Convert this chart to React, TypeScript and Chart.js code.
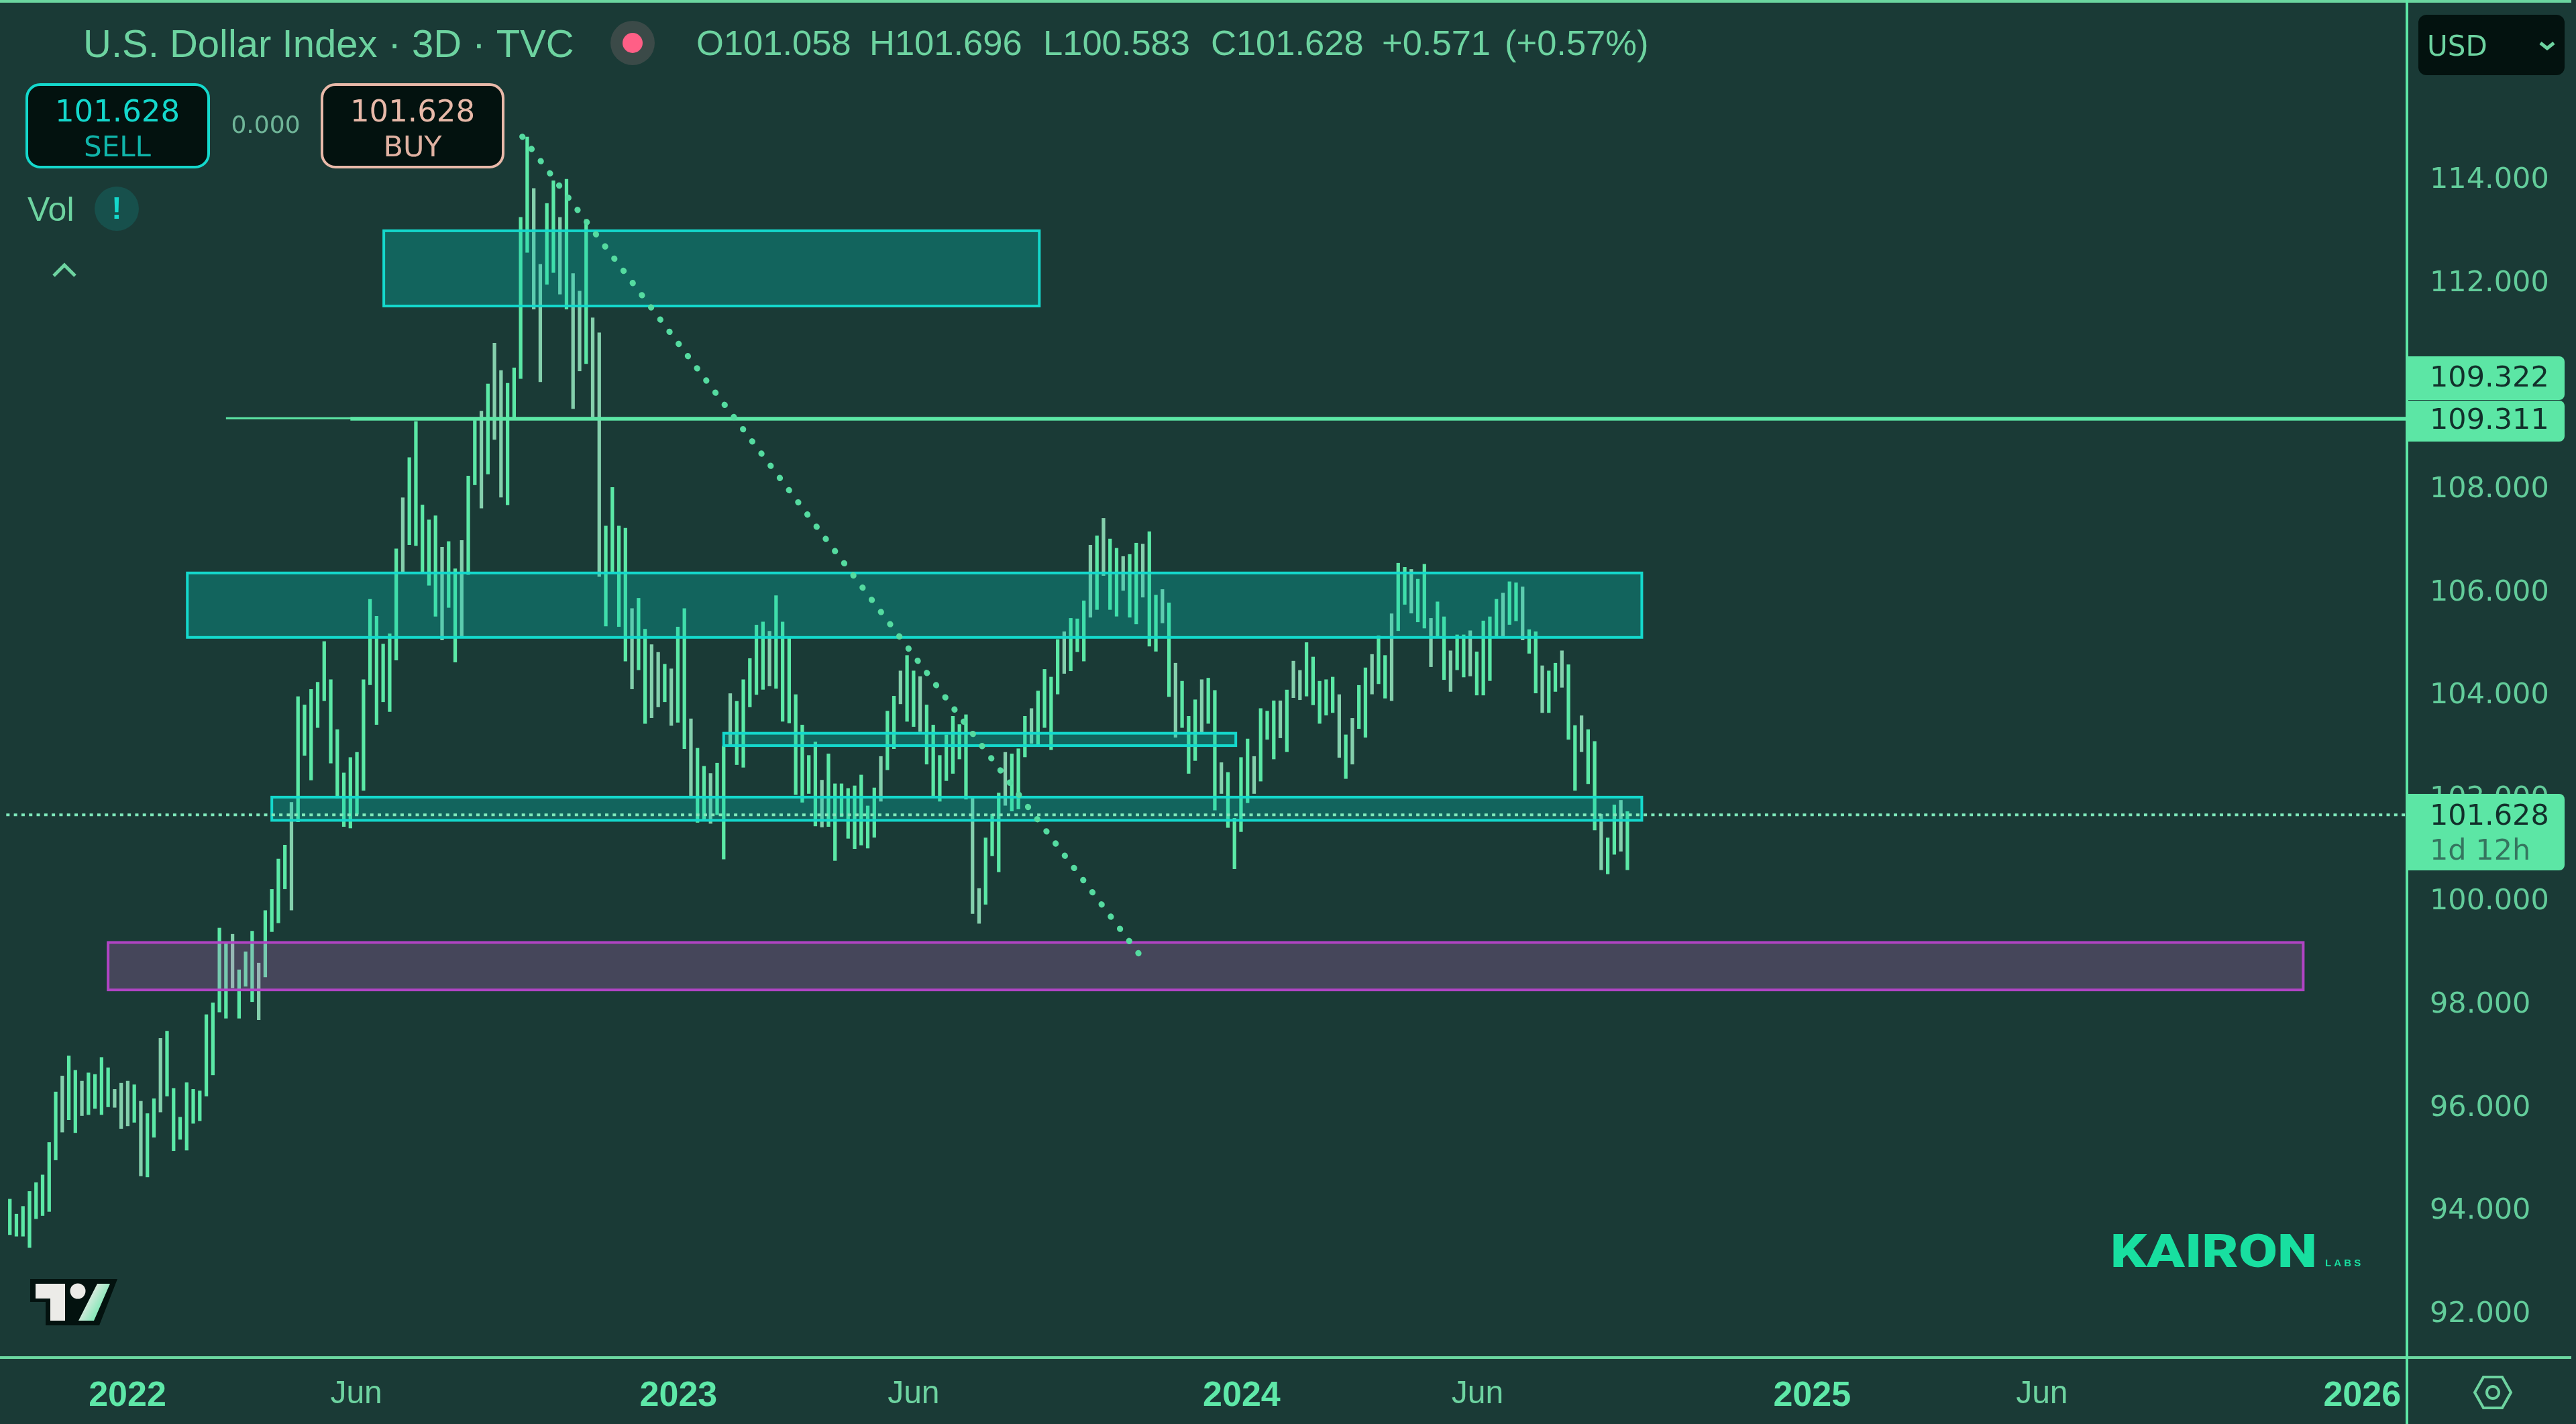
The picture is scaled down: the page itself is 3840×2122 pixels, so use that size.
import React, { useEffect, useRef } from "react";
import { Chart, registerables } from "chart.js";

Chart.register(...registerables);

const barHighs = [
  94.17, 93.88, 94.03, 94.32, 94.49, 94.64, 95.27, 96.25, 96.56, 96.95, 96.67, 96.46, 96.62, 96.59, 96.92, 96.72, 96.30, 96.42, 96.46, 96.39,
  96.07, 95.83, 96.12, 97.29, 97.43, 96.32, 95.76, 96.43, 96.30, 96.27, 97.75, 97.98, 99.43, 99.16, 99.31, 98.62, 98.97, 99.37, 98.75, 99.77,
  100.18, 100.77, 101.04, 101.87, 103.92, 103.76, 104.06, 104.20, 104.99, 104.25, 103.28, 102.44, 102.74, 102.84, 104.25, 105.81, 105.48, 104.94, 105.14, 106.79,
  107.78, 108.56, 109.26, 107.64, 107.35, 107.43, 106.82, 106.93, 106.40, 106.95, 108.20, 109.28, 109.46, 109.99, 110.78, 110.25, 110.00, 110.30, 113.22, 114.78,
  113.78, 112.31, 113.49, 113.93, 113.22, 113.96, 112.13, 111.79, 113.18, 111.27, 110.98, 107.23, 107.98, 107.23, 107.19, 105.63, 105.83, 105.23, 104.93, 104.78,
  104.55, 104.46, 105.27, 105.63, 103.49, 102.92, 102.57, 102.43, 102.63, 102.96, 103.98, 103.83, 104.25, 104.66, 105.31, 105.37, 105.19, 105.88, 105.37, 105.09,
  103.96, 103.37, 102.78, 103.04, 102.30, 102.81, 102.23, 102.23, 102.14, 102.19, 102.40, 101.80, 102.15, 102.76, 103.64, 103.93, 104.42, 104.72, 104.42, 104.31,
  103.76, 103.37, 102.78, 103.18, 103.54, 103.38, 103.57, 101.98, 100.20, 101.18, 101.64, 102.05, 102.84, 102.81, 102.91, 103.54, 103.69, 104.03, 104.45, 104.30,
  105.03, 105.18, 105.44, 105.43, 105.78, 106.86, 107.04, 107.38, 106.98, 106.80, 106.64, 106.68, 106.90, 106.88, 107.12, 105.89, 106.00, 105.74, 104.57, 104.22,
  103.54, 103.86, 104.25, 104.28, 104.04, 102.64, 102.45, 101.56, 102.74, 103.10, 102.76, 103.69, 103.64, 103.84, 103.84, 104.05, 104.61, 104.43, 104.97, 104.69,
  104.22, 104.25, 104.30, 103.96, 103.18, 103.50, 104.14, 104.48, 104.74, 105.10, 104.72, 105.53, 106.51, 106.43, 106.39, 106.20, 106.49, 105.44, 105.76, 105.47,
  104.81, 105.12, 105.12, 105.20, 104.79, 105.39, 105.47, 105.81, 105.93, 106.15, 106.13, 106.05, 105.22, 105.18, 104.52, 104.42, 104.57, 104.81, 104.54, 103.36,
  103.55, 103.28, 103.05, 101.64, 101.18, 101.82, 101.91, 101.69,
];

const barLows = [
  93.48, 93.45, 93.45, 93.23, 93.79, 93.85, 93.93, 94.93, 95.47, 95.71, 95.46, 95.79, 95.81, 95.93, 95.81, 95.96, 95.95, 95.54, 95.59, 95.66,
  94.62, 94.60, 95.37, 95.86, 96.17, 95.11, 95.33, 95.12, 95.64, 95.69, 96.17, 96.58, 97.80, 97.68, 98.27, 97.68, 98.30, 98.00, 97.65, 98.48,
  99.36, 99.53, 100.19, 99.78, 101.49, 102.78, 102.30, 103.32, 103.84, 102.63, 101.95, 101.40, 101.37, 101.64, 102.10, 104.15, 103.38, 103.82, 103.63, 104.63,
  106.33, 106.87, 106.85, 106.33, 106.08, 105.48, 105.02, 105.65, 104.59, 105.06, 106.29, 108.03, 107.58, 108.24, 108.91, 107.79, 107.64, 109.32, 110.09, 112.54,
  111.44, 110.03, 111.92, 112.15, 111.73, 111.44, 109.51, 110.24, 110.38, 109.32, 106.25, 105.29, 106.31, 105.28, 104.61, 104.07, 104.44, 103.40, 103.51, 103.72,
  103.82, 103.36, 103.42, 102.91, 101.95, 101.48, 101.53, 101.46, 101.63, 100.77, 102.96, 102.60, 102.55, 103.72, 103.96, 104.06, 104.13, 104.08, 103.44, 103.41,
  102.02, 101.87, 102.04, 101.41, 101.39, 101.40, 100.74, 101.59, 101.17, 100.97, 101.04, 100.98, 101.19, 101.89, 102.50, 102.91, 103.78, 103.44, 103.34, 103.24,
  102.61, 101.98, 101.89, 102.29, 102.43, 102.71, 101.93, 99.71, 99.52, 99.89, 100.83, 100.52, 101.81, 101.70, 101.74, 102.75, 103.01, 102.96, 103.32, 102.89,
  103.97, 104.37, 104.42, 104.79, 104.61, 105.46, 105.61, 106.27, 105.61, 105.48, 105.98, 105.46, 105.33, 105.85, 104.90, 104.80, 105.35, 103.92, 103.13, 103.32,
  102.43, 102.68, 103.22, 103.40, 101.72, 102.04, 101.38, 100.58, 101.30, 101.86, 102.04, 102.28, 103.09, 102.71, 103.12, 102.85, 103.90, 103.86, 103.93, 103.76,
  103.40, 103.56, 103.61, 102.74, 102.33, 102.61, 103.30, 103.13, 103.97, 104.17, 103.89, 103.84, 105.20, 105.71, 105.54, 105.37, 105.25, 104.50, 105.09, 104.25,
  104.02, 104.44, 104.30, 104.32, 103.95, 103.95, 104.23, 105.09, 105.09, 105.32, 105.39, 105.02, 104.76, 103.99, 103.61, 103.61, 104.02, 104.10, 103.09, 102.10,
  102.85, 102.23, 101.33, 100.56, 100.48, 100.86, 100.92, 100.56,
];

const mutedBars = [
  8, 11, 16, 17, 18, 20, 23, 34, 38, 43, 60, 66, 69, 72, 74, 75, 80, 81, 84, 86, 87, 89, 90, 95, 98, 99, 101, 104, 107, 110, 116, 124, 133, 136, 139,
  147, 148, 152, 156, 161, 165, 167, 170, 173, 176, 178, 182, 185, 190, 194, 196, 197, 203, 205, 208, 211, 214, 217, 220, 223, 228, 231, 234, 237, 240, 243, 246,
];

const priceTicks = [114, 112, 110, 108, 106, 104, 102, 100, 98, 96, 94, 92];
const timeTickBars = [17.96, 52.9, 102.1, 138.0, 188.1, 224.1, 275.2, 310.3, 359.2];
const timeTickLabels = ["2022", "Jun", "2023", "Jun", "2024", "Jun", "2025", "Jun", "2026"];

const zoneStarts = [57.1, 27.1, 109.0, 40.0, 15.0];
const zoneEnds = [157.2, 249.2, 187.2, 249.2, 350.2];
const zoneTops = [112.96, 106.32, 103.21, 101.97, 99.15];
const zoneBottoms = [111.5, 105.07, 102.97, 101.52, 98.23];
const zoneFills = ["rgba(0,198,181,0.3)", "rgba(0,198,181,0.3)", "rgba(0,198,181,0.3)", "rgba(0,198,181,0.3)", "rgba(205,110,205,0.24)"];
const zoneEdges = ["#14d8cc", "#14d8cc", "#14d8cc", "#14d8cc", "#b044c4"];

const axisXMin = -1.506;
const axisXMax = 366.04;
const axisYMin = 91.096;
const axisYMax = 117.4375;

const lastPrice = 101.628;
const levelA = 109.322;
const levelB = 109.311;
const levelAStart = 33.0;
const levelBStart = 52.0;
const trendX = [78.25, 172.4];
const trendY = [114.786, 98.93];

const legendOHLC = ["O101.058", "H101.696", "L100.583", "C101.628", "+0.571", "(+0.57%)"];
const legendOHLCx = [1038, 1296, 1555, 1805, 2060, 2243];

const BG = "#1a3a36";
const GREEN = "#5ce6a5";
const TEXT = "#6dd3a0";
const SANS = '"Liberation Sans", Arial, sans-serif';
const DEJA = '"DejaVu Sans", sans-serif';

function roundBox(ctx: any, x: number, y: number, w: number, h: number, r: any, fill: string, stroke?: string, lw = 4) {
  ctx.beginPath();
  ctx.roundRect(x, y, w, h, r);
  ctx.fillStyle = fill;
  ctx.fill();
  if (stroke) {
    ctx.lineWidth = lw;
    ctx.strokeStyle = stroke;
    ctx.stroke();
  }
}

function label(ctx: any, s: string, x: number, y: number, font: string, color: string, align = "left") {
  ctx.font = font;
  ctx.fillStyle = color;
  ctx.textAlign = align;
  ctx.textBaseline = "middle";
  ctx.fillText(s, x, y);
}

const zonesPlugin = {
  id: "zones",
  afterDatasetDraw(chart: any, args: any) {
    if (args.meta.type !== "bar") return;
    const { ctx, scales } = chart;
    ctx.save();
    zoneStarts.forEach((start, i) => {
      const x0 = scales.x.getPixelForValue(start);
      const x1 = scales.x.getPixelForValue(zoneEnds[i]);
      const y0 = scales.y.getPixelForValue(zoneTops[i]);
      const y1 = scales.y.getPixelForValue(zoneBottoms[i]);
      ctx.fillStyle = zoneFills[i];
      ctx.fillRect(x0, y0, x1 - x0, y1 - y0);
      ctx.strokeStyle = zoneEdges[i];
      ctx.lineWidth = 4;
      ctx.strokeRect(x0, y0, x1 - x0, y1 - y0);
    });
    ctx.restore();
  },
};

const overlayPlugin = {
  id: "overlay",
  afterDraw(chart: any) {
    const { ctx, scales } = chart;
    ctx.save();

    // frame
    ctx.fillStyle = "#6bd6a0";
    ctx.fillRect(0, 0, 3833, 4);
    ctx.fillRect(0, 2021, 3833, 4);
    ctx.fillStyle = GREEN;
    ctx.fillRect(3586, 0, 4, 2122);

    // header
    label(ctx, "U.S. Dollar Index · 3D · TVC", 124, 69, `58px ${SANS}`, TEXT);
    ctx.beginPath();
    ctx.ellipse(943, 64, 33, 33, 0, 0, Math.PI * 2);
    ctx.fillStyle = "#3b4a48";
    ctx.fill();
    ctx.beginPath();
    ctx.arc(943, 64, 15, 0, Math.PI * 2);
    ctx.fillStyle = "#ff5f86";
    ctx.fill();
    legendOHLC.forEach((s, i) => label(ctx, s, legendOHLCx[i], 68, `52.5px ${SANS}`, TEXT));

    // buy & sell
    roundBox(ctx, 40, 126, 271, 123, 20, "#03120f", "#14d8cc");
    label(ctx, "101.628", 175, 169, `45px ${DEJA}`, "#14d8cc", "center");
    label(ctx, "SELL", 175, 222, `42px ${DEJA}`, "#10b5aa", "center");
    label(ctx, "0.000", 396, 189, `36px ${DEJA}`, "#6fb598", "center");
    roundBox(ctx, 480, 126, 270, 123, 20, "#03120f", "#e8b9a9");
    label(ctx, "101.628", 615, 169, `45px ${DEJA}`, "#e8b9a9", "center");
    label(ctx, "BUY", 615, 222, `43px ${DEJA}`, "#e0b2a2", "center");

    // volume legend
    label(ctx, "Vol", 41, 315, `50px ${SANS}`, TEXT);
    ctx.beginPath();
    ctx.arc(174, 311, 33, 0, Math.PI * 2);
    ctx.fillStyle = "#17504c";
    ctx.fill();
    label(ctx, "!", 174, 313, `bold 46px ${SANS}`, "#14d8cc", "center");
    ctx.beginPath();
    ctx.moveTo(80, 411);
    ctx.lineTo(96, 395);
    ctx.lineTo(112, 411);
    ctx.strokeStyle = TEXT;
    ctx.lineWidth = 5;
    ctx.stroke();

    // currency
    roundBox(ctx, 3605, 22, 218, 90, 12, "#03120f");
    label(ctx, "USD", 3618, 72, `42px ${DEJA}`, TEXT);
    ctx.beginPath();
    ctx.moveTo(3787, 64);
    ctx.lineTo(3797, 72);
    ctx.lineTo(3807, 64);
    ctx.strokeStyle = TEXT;
    ctx.lineWidth = 5;
    ctx.stroke();

    // price tags
    const px = scales.y.getPixelForValue(levelB);
    roundBox(ctx, 3590, 531, 233, 65, [0, 8, 8, 0], GREEN);
    roundBox(ctx, 3590, 597, 233, 61, [0, 8, 8, 0], GREEN);
    label(ctx, levelA.toFixed(3), 3622, 565, `43px ${DEJA}`, "#12302b");
    label(ctx, levelB.toFixed(3), 3622, px + 4, `43px ${DEJA}`, "#12302b");
    roundBox(ctx, 3590, 1183, 233, 114, [0, 8, 8, 0], GREEN);
    label(ctx, lastPrice.toFixed(3), 3622, scales.y.getPixelForValue(lastPrice) + 4, `43px ${DEJA}`, "#12302b");
    label(ctx, "1d 12h", 3622, 1270, `43px ${DEJA}`, "#35755f");

    // settings
    const hx = 3716;
    const hy = 2075;
    ctx.beginPath();
    ctx.moveTo(hx - 27, hy);
    ctx.lineTo(hx - 14, hy - 23);
    ctx.lineTo(hx + 14, hy - 23);
    ctx.lineTo(hx + 27, hy);
    ctx.lineTo(hx + 14, hy + 23);
    ctx.lineTo(hx - 14, hy + 23);
    ctx.closePath();
    ctx.strokeStyle = TEXT;
    ctx.lineWidth = 4;
    ctx.stroke();
    ctx.beginPath();
    ctx.arc(hx, hy, 9, 0, Math.PI * 2);
    ctx.stroke();

    // watermark
    ctx.save();
    ctx.font = `900 68px Roboto, ${SANS}`;
    const w = ctx.measureText("KAIRON").width;
    ctx.translate(3146, 1888);
    ctx.scale(308 / w, 1);
    ctx.fillStyle = "#18dfa0";
    ctx.textAlign = "left";
    ctx.textBaseline = "alphabetic";
    ctx.fillText("KAIRON", 0, 0);
    ctx.restore();
    label(ctx, "L A B S", 3466, 1883, `bold 15px ${SANS}`, "#18dfa0");

    // exchange mark
    ctx.beginPath();
    ctx.moveTo(45, 1906);
    ctx.lineTo(175, 1906);
    ctx.lineTo(148, 1975);
    ctx.lineTo(68, 1975);
    ctx.lineTo(68, 1940);
    ctx.lineTo(45, 1940);
    ctx.closePath();
    ctx.fillStyle = "#03120f";
    ctx.fill();
    ctx.fillStyle = "#ecebe8";
    ctx.beginPath();
    ctx.moveTo(53, 1913);
    ctx.lineTo(97, 1913);
    ctx.lineTo(97, 1968);
    ctx.lineTo(75, 1968);
    ctx.lineTo(75, 1935);
    ctx.lineTo(53, 1935);
    ctx.closePath();
    ctx.fill();
    ctx.beginPath();
    ctx.arc(116, 1924, 11.5, 0, Math.PI * 2);
    ctx.fill();
    const g = ctx.createLinearGradient(125, 1935, 160, 1955);
    g.addColorStop(0, "#ecebe8");
    g.addColorStop(1, "#5ce6a5");
    ctx.fillStyle = g;
    ctx.beginPath();
    ctx.moveTo(145, 1913);
    ctx.lineTo(164, 1913);
    ctx.lineTo(140, 1968);
    ctx.lineTo(117, 1968);
    ctx.closePath();
    ctx.fill();
    ctx.restore();
  },
};

export default function App() {
  const ref = useRef<HTMLCanvasElement | null>(null);

  useEffect(() => {
    document.body.style.margin = "0";
    document.body.style.background = BG;
    const chart = new Chart(ref.current as any, {
      type: "bar",
      data: {
        datasets: [
          {
            type: "bar",
            order: 10,
            data: barHighs.map((h, i) => ({ x: i, y: [barLows[i], h] })),
            backgroundColor: barHighs.map((_, i) => (mutedBars.includes(i) ? "#84cfac" : "#5be8a6")),
            borderWidth: 0,
            barThickness: 4.6,
          } as any,
          {
            type: "line",
            order: 4,
            data: [{ x: levelAStart, y: levelA }, { x: axisXMax, y: levelA }],
            borderColor: GREEN,
            borderWidth: 3,
            pointRadius: 0,
          } as any,
          {
            type: "line",
            order: 3,
            data: [{ x: levelBStart, y: levelB }, { x: axisXMax, y: levelB }],
            borderColor: GREEN,
            borderWidth: 5.5,
            pointRadius: 0,
          } as any,
          {
            type: "line",
            order: 2,
            data: [{ x: -0.55, y: lastPrice }, { x: axisXMax, y: lastPrice }],
            borderColor: "#7fe8bb",
            borderWidth: 4,
            borderDash: [5, 6.3],
            pointRadius: 0,
          } as any,
          {
            type: "line",
            order: 1,
            data: trendX.map((x, i) => ({ x, y: trendY[i] })),
            borderColor: "#55dba0",
            borderWidth: 9,
            borderDash: [0.5, 22.25],
            borderCapStyle: "round",
            pointRadius: 0,
          } as any,
        ],
      },
      options: {
        animation: false,
        responsive: false,
        maintainAspectRatio: false,
        devicePixelRatio: 1,
        layout: { padding: 0 },
        plugins: { legend: { display: false }, tooltip: { enabled: false } },
        scales: {
          x: {
            type: "linear",
            min: axisXMin,
            max: axisXMax,
            offset: false,
            grid: { display: false, drawTicks: false },
            border: { display: false },
            afterBuildTicks: (s: any) => {
              s.ticks = timeTickBars.map((value) => ({ value }));
            },
            afterFit: (s: any) => {
              s.height = 99;
              s.paddingLeft = 0;
              s.paddingRight = 0;
            },
            ticks: {
              autoSkip: false,
              maxRotation: 0,
              padding: 26,
              callback: (v: any) => timeTickLabels[timeTickBars.indexOf(v)],
              color: (c: any) => (c.index % 2 === 0 ? "#5ee8a8" : TEXT),
              font: (c: any) =>
                c.index % 2 === 0
                  ? { family: "Liberation Sans", size: 52, weight: "bold" }
                  : { family: "Liberation Sans", size: 48, weight: "normal" },
            },
          },
          y: {
            type: "linear",
            position: "right",
            min: axisYMin,
            max: axisYMax,
            grid: { display: false, drawTicks: false },
            border: { display: false },
            afterBuildTicks: (s: any) => {
              s.ticks = priceTicks.map((value) => ({ value }));
            },
            afterFit: (s: any) => {
              s.width = 252;
              s.paddingTop = 0;
              s.paddingBottom = 0;
            },
            ticks: {
              autoSkip: false,
              padding: 34,
              labelOffset: 5,
              callback: (v: any) => Number(v).toFixed(3),
              color: "#62cc9a",
              font: { family: "DejaVu Sans", size: 43 },
            },
          },
        },
      } as any,
      plugins: [zonesPlugin, overlayPlugin],
    });
    return () => chart.destroy();
  }, []);

  return <canvas ref={ref} width={3840} height={2122} style={{ display: "block", width: 3840, height: 2122, background: BG }} />;
}
